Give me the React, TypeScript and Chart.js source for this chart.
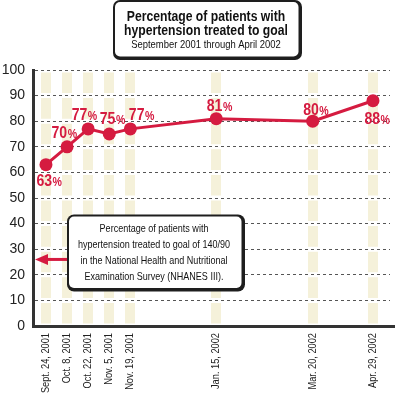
import React, { useEffect, useRef } from "react";
import { Chart, registerables } from "chart.js";

Chart.register(...registerables);

// ---- data ----
const dateLabels = [
  "Sept. 24, 2001",
  "Oct. 8, 2001",
  "Oct. 22, 2001",
  "Nov. 5, 2001",
  "Nov. 19, 2001",
  "Jan. 15, 2002",
  "Mar. 20, 2002",
  "Apr. 29, 2002",
];
// days since Sept. 24, 2001
const dayOffsets = [0, 14, 28, 42, 56, 113, 177, 217];
const percentTreated = [63, 70, 77, 75, 77, 81, 80, 88];
const yTickValues = [0, 10, 20, 30, 40, 50, 60, 70, 80, 90, 100];
const nhanesValue = 26;

const titleLines = ["Percentage of patients with", "hypertension treated to goal"];
const subtitleText = "September 2001 through April 2002";
const noteLines = [
  "Percentage of patients with",
  "hypertension treated to goal of 140/90",
  "in the National Health and Nutritional",
  "Examination Survey (NHANES III).",
];

// ---- styles ----
const RED = "#d51b40";
const SANS = '"Liberation Sans", Arial, sans-serif';
// label offsets relative to each point (dx, dy)
const labelOffsets: [number, number][] = [
  [3, 17],
  [-3, -13],
  [-4, -13],
  [3, -14],
  [11, -13],
  [3, -12],
  [3, -11],
  [4, 19],
];

// draw text horizontally condensed
function condText(
  ctx: CanvasRenderingContext2D,
  text: string,
  x: number,
  y: number,
  font: string,
  sx: number,
  align: CanvasTextAlign = "center",
  color = "#111",
) {
  ctx.save();
  ctx.translate(x, y);
  ctx.scale(sx, 1);
  ctx.font = font;
  ctx.fillStyle = color;
  ctx.textAlign = align;
  ctx.textBaseline = "middle";
  ctx.fillText(text, 0, 0);
  ctx.restore();
}

function boxWithShadow(ctx: CanvasRenderingContext2D, x: number, y: number, w: number, h: number, r: number) {
  ctx.save();
  ctx.fillStyle = "#1e1e1e";
  ctx.beginPath();
  ctx.roundRect(x, y, w, h, r);
  ctx.fill();
  ctx.fillStyle = "#ffffff";
  ctx.beginPath();
  ctx.roundRect(x + 2, y + 2, w - 5.5, h - 5.5, Math.max(r - 2, 1));
  ctx.fill();
  ctx.restore();
}

const decorPlugin = {
  id: "decor",
  afterDatasetsDraw(chart: any) {
    const ctx: CanvasRenderingContext2D = chart.ctx;
    const meta = chart.getDatasetMeta(0);
    const sx = 0.88;
    const numFont = `bold 16px ${SANS}`;
    const pctFont = `bold 12px ${SANS}`;
    // data labels
    meta.data.forEach((pt: any, i: number) => {
      const [dx, dy] = labelOffsets[i];
      const num = String(percentTreated[i]);
      ctx.save();
      ctx.font = numFont;
      const w1 = ctx.measureText(num).width * sx;
      ctx.font = pctFont;
      const w2 = ctx.measureText("%").width * sx;
      ctx.restore();
      const left = pt.x + dx - (w1 + w2) / 2;
      const cy = pt.y + dy;
      condText(ctx, num, left, cy, numFont, sx, "left", RED);
      condText(ctx, "%", left + w1 + 0.5, cy + 1, pctFont, sx, "left", RED);
    });
  },
  afterDraw(chart: any) {
    const ctx: CanvasRenderingContext2D = chart.ctx;
    const area = chart.chartArea;
    const xScale = chart.scales.x;
    const yScale = chart.scales.y;

    // x tick labels (rotated, condensed)
    dayOffsets.forEach((d, i) => {
      const px = xScale.getPixelForValue(d);
      ctx.save();
      ctx.translate(px, area.bottom + 7);
      ctx.rotate(-Math.PI / 2);
      ctx.scale(0.84, 1);
      ctx.font = `11px ${SANS}`;
      ctx.fillStyle = "#222";
      ctx.textAlign = "right";
      ctx.textBaseline = "middle";
      ctx.fillText(dateLabels[i], 0, 0);
      ctx.restore();
    });

    // title box
    boxWithShadow(ctx, 113, 0, 189, 60, 7);
    condText(ctx, titleLines[0], 206, 17, `bold 14px ${SANS}`, 0.87);
    condText(ctx, titleLines[1], 206, 31, `bold 14px ${SANS}`, 0.87);
    condText(ctx, subtitleText, 206, 45, `10.5px ${SANS}`, 0.9);

    // note box + arrow
    const ay = yScale.getPixelForValue(nhanesValue);
    const bx = area.left + 34;
    const by = ay - 45;
    const bw = 178;
    const bh = 77;
    ctx.save();
    ctx.strokeStyle = RED;
    ctx.fillStyle = RED;
    ctx.lineWidth = 3;
    ctx.beginPath();
    ctx.moveTo(bx + 2, ay);
    ctx.lineTo(area.left + 12, ay);
    ctx.stroke();
    ctx.beginPath();
    ctx.moveTo(area.left + 2, ay);
    ctx.lineTo(area.left + 15, ay - 5.5);
    ctx.lineTo(area.left + 15, ay + 5.5);
    ctx.closePath();
    ctx.fill();
    ctx.restore();

    boxWithShadow(ctx, bx, by, bw, bh, 7);
    noteLines.forEach((t, i) =>
      condText(ctx, t, bx + (bw - 4) / 2, by + 15 + i * 16, `11px ${SANS}`, 0.82),
    );
  },
};

export default function App() {
  const canvasRef = useRef<HTMLCanvasElement | null>(null);

  useEffect(() => {
    document.body.style.margin = "0";
    const canvas = canvasRef.current;
    if (!canvas) return;
    const chart = new Chart(canvas, {
      type: "line",
      data: {
        datasets: [
          {
            data: dayOffsets.map((d, i) => ({ x: d, y: percentTreated[i] })),
            borderColor: RED,
            backgroundColor: RED,
            borderWidth: 3,
            pointRadius: 6.5,
            pointBackgroundColor: RED,
            pointBorderWidth: 0,
            tension: 0,
            clip: false as any,
          },
        ],
      },
      options: {
        responsive: false,
        animation: false,
        events: [],
        layout: { padding: { top: 70, right: 10, left: 0, bottom: 0 } },
        plugins: {
          legend: { display: false },
          tooltip: { enabled: false },
          title: { display: false },
        },
        scales: {
          x: {
            type: "linear",
            min: -8.6,
            max: 228.3,
            afterBuildTicks: (s: any) => {
              s.ticks = dayOffsets.map((v) => ({ value: v }));
            },
            afterFit: (s: any) => {
              s.height = 68;
            },
            ticks: { display: false },
            grid: { color: "#f5f1da", lineWidth: 10, drawTicks: false },
            border: { display: true, color: "#333", width: 3, dash: [20.6, 5], dashOffset: 23.1 },
          },
          y: {
            min: 0,
            max: 100,
            afterBuildTicks: (s: any) => {
              s.ticks = yTickValues.map((v) => ({ value: v }));
            },
            afterFit: (s: any) => {
              s.width = 33;
            },
            ticks: {
              padding: 8,
              color: "#222",
              font: { family: SANS, size: 14 },
            },
            grid: {
              color: "#555",
              lineWidth: (c: any) => (c.tick && c.tick.value === 0 ? 0 : 1),
              drawTicks: false,
            },
            border: { display: true, color: "#333", width: 3, dash: [3, 3] },
          },
        },
      },
      plugins: [decorPlugin],
    });
    return () => chart.destroy();
  }, []);

  return (
    <div style={{ width: 400, height: 394, background: "#fff" }}>
      <canvas ref={canvasRef} width={400} height={394} style={{ display: "block" }} />
    </div>
  );
}
